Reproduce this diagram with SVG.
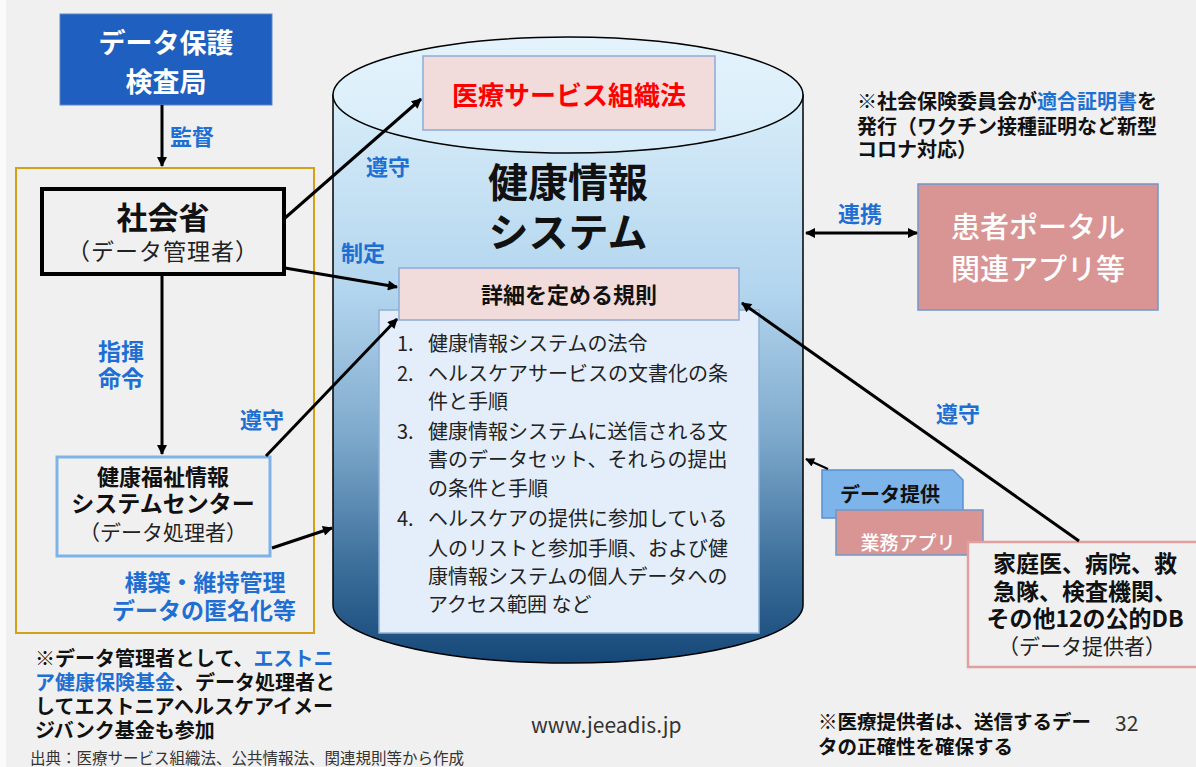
<svg xmlns="http://www.w3.org/2000/svg" width="1196" height="767" viewBox="0 0 1196 767">
<defs>
<style>
text{font-family:"Noto Sans CJK JP","Noto Sans",sans-serif;dominant-baseline:central;}
.c{text-anchor:middle;}
.b{font-weight:bold;}
.blue{fill:#1f6fd2;font-weight:bold;}
.k{fill:#111;}
.w{fill:#fff;font-weight:500;}
.conn{stroke:#000;stroke-width:3;fill:none;}
.pink{fill:#f2dcdb;stroke:#8eaad6;stroke-width:1.5;}
.rose{fill:#d99594;stroke:#6f97c8;stroke-width:1.5;}
.li{font-size:20px;fill:#222;}
</style>
<marker id="ah" viewBox="0 0 10 10" refX="9" refY="5" markerWidth="12" markerHeight="10" markerUnits="userSpaceOnUse" orient="auto-start-reverse">
<path d="M0,0 L10,5 L0,10 Z" fill="#000"/>
</marker>
<marker id="ahs" viewBox="0 0 10 10" refX="9" refY="5" markerWidth="10" markerHeight="9" markerUnits="userSpaceOnUse" orient="auto">
<path d="M0,0 L10,5 L0,10 Z" fill="#000"/>
</marker>
<linearGradient id="body" x1="0" y1="95" x2="0" y2="663" gradientUnits="userSpaceOnUse">
<stop offset="0" stop-color="#d8edf9"/>
<stop offset="0.35" stop-color="#b2d5ee"/>
<stop offset="0.6" stop-color="#7ea9cc"/>
<stop offset="0.82" stop-color="#3f719d"/>
<stop offset="1" stop-color="#154878"/>
</linearGradient>
<linearGradient id="top" x1="0" y1="37" x2="0" y2="153" gradientUnits="userSpaceOnUse">
<stop offset="0" stop-color="#e4f3fc"/>
<stop offset="1" stop-color="#d6ecf9"/>
</linearGradient>
</defs>
<rect x="0" y="0" width="1196" height="767" fill="#f0f0f0"/>
<rect x="0" y="0" width="6" height="767" fill="#fbfbfb"/>

<g id="cylinder">
<path d="M333,95 L333,605 A235,58 0 0 0 803,605 L803,95 Z" fill="url(#body)" stroke="#000" stroke-width="1.5"/>
<ellipse cx="568" cy="95" rx="235" ry="58" fill="url(#top)" stroke="#000" stroke-width="1.5"/>
<text class="c b k" x="568" y="180" font-size="40">健康情報</text>
<text class="c b k" x="568" y="230" font-size="40">システム</text>
</g>

<g id="org-law">
<rect class="pink" x="423" y="56" width="292" height="74"/>
<text class="c b" x="569" y="93" font-size="26" fill="#ff0000">医療サービス組織法</text>
</g>

<g id="rules-list">
<rect x="379" y="310" width="380" height="323" fill="#e3eefa" stroke="#8fb0d8" stroke-width="1.5"/>
<text class="li" x="397" y="342">1.</text>
<text class="li" x="428" y="342">健康情報システムの法令</text>
<text class="li" x="397" y="372">2.</text>
<text class="li" x="428" y="372">ヘルスケアサービスの文書化の条</text>
<text class="li" x="428" y="400">件と手順</text>
<text class="li" x="397" y="430">3.</text>
<text class="li" x="428" y="430">健康情報システムに送信される文</text>
<text class="li" x="428" y="458">書のデータセット、それらの提出</text>
<text class="li" x="428" y="487">の条件と手順</text>
<text class="li" x="397" y="517">4.</text>
<text class="li" x="428" y="517">ヘルスケアの提供に参加している</text>
<text class="li" x="428" y="547">人のリストと参加手順、および健</text>
<text class="li" x="428" y="575">康情報システムの個人データへの</text>
<text class="li" x="428" y="603">アクセス範囲 など</text>
</g>

<g id="rules">
<rect class="pink" x="399" y="268" width="340" height="52"/>
<text class="c b k" x="569" y="293" font-size="22">詳細を定める規則</text>
</g>

<g id="dpa">
<rect x="60" y="14" width="212" height="91" fill="#1f5fbf" stroke="#5a86c8" stroke-width="1"/>
<text class="c b" x="166" y="41" font-size="27" fill="#fff">データ保護</text>
<text class="c b" x="166" y="80" font-size="27" fill="#fff">検査局</text>
</g>

<g id="group-frame">
<rect x="16" y="168" width="298" height="465" fill="none" stroke="#d4a017" stroke-width="2"/>
</g>

<g id="ministry">
<rect x="42" y="189" width="242" height="85" fill="#f0f0f0" stroke="#000" stroke-width="4"/>
<text class="c b k" x="163" y="215" font-size="31">社会省</text>
<text class="c" x="163" y="250" font-size="23" fill="#222" letter-spacing="1">（データ管理者）</text>
</g>

<g id="center">
<rect x="57" y="457" width="213" height="99" fill="#f0f0f0" stroke="#7fb3e8" stroke-width="3"/>
<text class="c b k" x="163" y="475" font-size="22">健康福祉情報</text>
<text class="c b k" x="163" y="502" font-size="23">システムセンター</text>
<text class="c" x="163" y="531" font-size="21" fill="#222">（データ処理者）</text>
</g>

<g id="portal">
<rect class="rose" x="918" y="184" width="240" height="126"/>
<text class="c w" x="1038" y="225" font-size="29">患者ポータル</text>
<text class="c w" x="1038" y="267" font-size="29">関連アプリ等</text>
</g>

<g id="data-provision">
<path d="M822,470 L953,470 L963,480 L963,518 L822,518 Z" fill="#7db4ea" stroke="#5b8fd0" stroke-width="1.5"/>
<text class="c b k" x="890" y="493" font-size="20">データ提供</text>
</g>

<g id="business-app">
<rect class="rose" x="836" y="510" width="147" height="45"/>
<text class="c w" x="908" y="541" font-size="19">業務アプリ</text>
</g>

<g id="providers">
<rect x="968" y="542" width="240" height="125" fill="#f0f0f0" stroke="#e0a0a0" stroke-width="2.5"/>
<text class="c b k" x="1085" y="562" font-size="23">家庭医、病院、救</text>
<text class="c b k" x="1085" y="590" font-size="23">急隊、検査機関、</text>
<text class="c b k" x="1085" y="617" font-size="23">その他12の公的DB</text>
<text class="c" x="1082" y="645" font-size="21" fill="#222">（データ提供者）</text>
</g>

<g id="connectors">
<path class="conn" d="M162,105 L162,166" marker-end="url(#ah)"/>
<path class="conn" d="M285,218 L421,99" marker-end="url(#ah)"/>
<path class="conn" d="M285,268 L397,287" marker-end="url(#ah)"/>
<path class="conn" d="M162,275 L162,454" marker-end="url(#ah)"/>
<path class="conn" d="M266,456 L397,319" marker-end="url(#ah)"/>
<path class="conn" d="M272,548 L332,528" marker-end="url(#ah)"/>
<path class="conn" d="M806,233 L917,233" stroke-width="2.5" marker-start="url(#ah)" marker-end="url(#ah)"/>
<path class="conn" d="M1079,541 L742,303" marker-end="url(#ah)"/>
<path d="M828,469 L806,459" stroke="#000" stroke-width="2" fill="none" marker-end="url(#ahs)"/>
</g>

<g id="labels">
<text class="blue" x="170" y="135" font-size="22">監督</text>
<text class="blue" x="366" y="165" font-size="22">遵守</text>
<text class="blue" x="341" y="251" font-size="22">制定</text>
<text class="blue" x="98" y="350" font-size="23">指揮</text>
<text class="blue" x="98" y="377" font-size="23">命令</text>
<text class="blue" x="240" y="418" font-size="22">遵守</text>
<text class="blue c" x="205" y="581" font-size="23">構築・維持管理</text>
<text class="blue c" x="204" y="609" font-size="23">データの匿名化等</text>
<text class="blue" x="838" y="212" font-size="22">連携</text>
<text class="blue" x="936" y="412" font-size="22">遵守</text>
</g>

<g id="notes">
<text class="b k" x="857" y="100" font-size="20">※社会保険委員会が<tspan fill="#1f6fd2">適合証明書</tspan>を</text>
<text class="b k" x="857" y="125" font-size="20">発行（ワクチン接種証明など新型</text>
<text class="b k" x="857" y="148" font-size="20">コロナ対応）</text>
<text class="b k" x="35" y="657" font-size="20">※データ管理者として、<tspan fill="#1f6fd2">エストニ</tspan></text>
<text class="b k" x="35" y="681" font-size="20"><tspan fill="#1f6fd2">ア健康保険基金</tspan>、データ処理者と</text>
<text class="b k" x="35" y="705" font-size="20">してエストニアヘルスケアイメー</text>
<text class="b k" x="35" y="729" font-size="20">ジバンク基金も参加</text>
<text x="30" y="757" font-size="15.5" fill="#333">出典：医療サービス組織法、公共情報法、関連規則等から作成</text>
<text x="531" y="724" font-size="21" fill="#333" font-family="'Open Sans',sans-serif">www.jeeadis.jp</text>
<text class="b k" x="818" y="720" font-size="19.5">※医療提供者は、送信するデー</text>
<text class="b k" x="818" y="745" font-size="19.5">タの正確性を確保する</text>
<text x="1115" y="722" font-size="21" fill="#333" font-family="'Open Sans',sans-serif">32</text>
</g>
</svg>
